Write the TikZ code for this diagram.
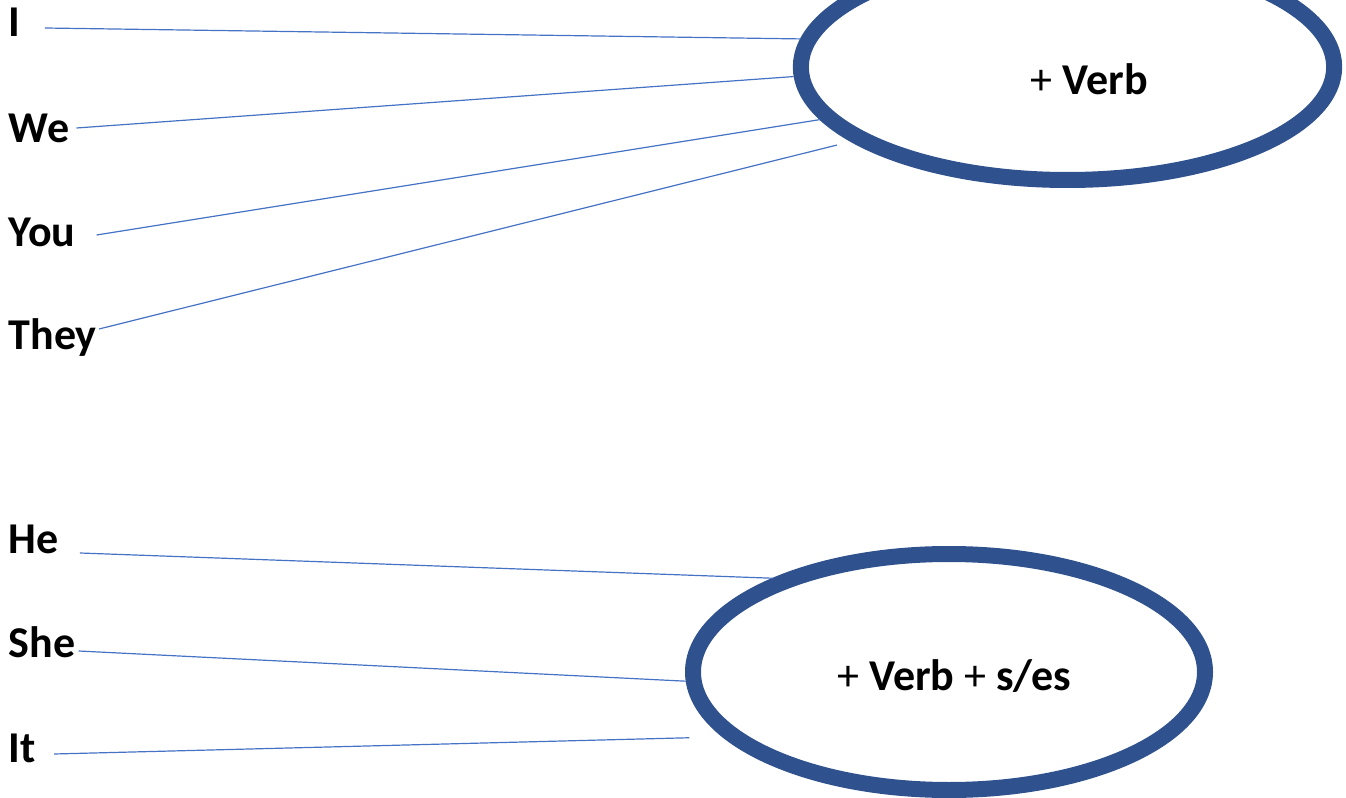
\documentclass[tikz,border=0pt]{standalone}
\usepackage{fontspec}
\setmainfont{Carlito}
\usepackage{tikz}
\usetikzlibrary{positioning, calc, shapes.geometric}
\definecolor{ringblue}{HTML}{2F528F}
\definecolor{lineblue}{HTML}{4472C4}
\tikzset{%
	word/.style={inner sep=0mm, anchor=base west, font=\fontsize{33}{38}\selectfont\bfseries},
	ring/.style={draw=ringblue, ellipse, line width=12pt, inner sep=0mm},
	rule/.style={inner sep=0mm, anchor=base, font=\fontsize{33}{38}\selectfont},
	connector/.style={draw=lineblue, line width=0.9pt}
}

\begin{document}
\begin{tikzpicture}[x=0.75pt, y=-0.75pt]
	\useasboundingbox (0,0) rectangle (1346,798);
	\node[word] (i) at (8.5,37) {I};
	\node[word] (we) at (8.5,143) {We};
	\node[word] (you) at (8.5,247) {You};
	\node[word] (they) at (8.5,350) {They};
	\node[word] (he) at (8.5,553) {He};
	\node[word] (she) at (8.5,657) {She};
	\node[word] (it) at (8.5,762) {It};
	\node[ring, minimum width=400pt, minimum height=169.5pt] (plain) at (1067.5,67) {};
	\node[rule] (plaintext) at (1089.5,95) {+ \textbf{Verb}};
	\node[ring, minimum width=384pt, minimum height=177pt] (ses) at (949,672) {};
	\node[rule] (sestext) at (954.5,690) {+ \textbf{Verb} + \textbf{s/es}};

	\draw[connector] ($(i.base east)+(24,-9)$) to (plain.174.5);
	\draw[connector] ($(we.base east)+(7,-15)$) to (plain.182.1);
	\draw[connector] ($(you.base east)+(21,-12)$) to (plain.192.1);
	\draw[connector, shorten >=11pt] ($(they.base east)+(2,-21)$) to (plain.199.0);
	\draw[connector] ($(he.base east)+(21,0)$) to (ses.152.8);
	\draw[connector] ($(she.base east)+(3,-6)$) to (ses.182.2);
	\draw[connector, shorten >=25pt] ($(it.base east)+(18,-8)$) to (ses.196.8);
\end{tikzpicture}
\end{document}
